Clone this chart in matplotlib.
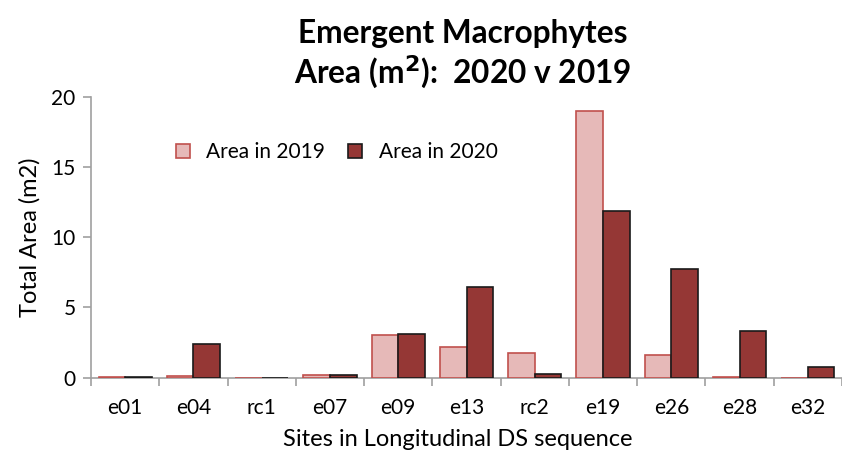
import matplotlib
matplotlib.use("Agg")
import matplotlib.pyplot as plt
import numpy as np

sites = ["e01", "e04", "rc1", "e07", "e09", "e13", "rc2", "e19", "e26", "e28", "e32"]
area_2019 = [0.02, 0.1, 0.0, 0.15, 3.0, 2.2, 1.73, 19.0, 1.6, 0.05, 0.0]
area_2020 = [0.03, 2.4, 0.0, 0.17, 3.1, 6.45, 0.23, 11.85, 7.75, 3.35, 0.73]

plt.rcParams['font.family'] = ['Lato', 'DejaVu Sans']

W, H = 842, 457
fig = plt.figure(figsize=(W / 100, H / 100), dpi=100)
x0, x1 = 91, 842
y0, y1 = 97, 377.5
ax = fig.add_axes([x0 / W, 1 - y1 / H, (x1 - x0) / W, (y1 - y0) / H])

x = np.arange(len(sites))
bw = 0.39
ax.bar(x - bw / 2, area_2019, bw, color="#E6B9B8", edgecolor="#C0504D", linewidth=1.2,
       label="Area in 2019", zorder=3)
ax.bar(x + bw / 2, area_2020, bw, color="#953735", edgecolor="#1a1a1a", linewidth=1.2,
       label="Area in 2020", zorder=3)

cat_w = 68.9
ax.set_xlim(-0.5, -0.5 + (x1 - x0) / cat_w)
ax.set_ylim(0, 20)
ax.set_yticks([0, 5, 10, 15, 20])
ax.set_xticks(x)
ax.set_xticklabels(sites)
ax.set_xticks(np.arange(len(sites) + 1) - 0.5, minor=True)
ax.tick_params(axis='x', which='major', length=0, labelsize=15, pad=15)
ax.tick_params(axis='x', which='minor', length=6, color="#A0A0A0", width=1.2)
ax.tick_params(axis='y', length=6, color="#A0A0A0", width=1.2, labelsize=15, pad=5)

for s in ['top', 'right']:
    ax.spines[s].set_visible(False)
for s in ['left', 'bottom']:
    ax.spines[s].set_color("#A0A0A0")
    ax.spines[s].set_linewidth(1.2)

ax.set_ylabel("Total Area (m2)", fontsize=17, labelpad=8)
ax.set_xlabel("Sites in Longitudinal DS sequence", fontsize=17, labelpad=6)
ax.xaxis.set_label_coords((458 - x0) / (x1 - x0), -0.185)

leg = ax.legend(loc='center left', bbox_to_anchor=(0.113, 0.804), ncol=2, frameon=False,
                fontsize=15, handlelength=0.67, handleheight=0.67, columnspacing=1.1,
                handletextpad=0.8, borderpad=0, borderaxespad=0)

fig.text(463 / W, 1 - 33 / H, "Emergent Macrophytes", ha='center', va='center',
         fontsize=22.8, fontweight='bold')
fig.text(463 / W, 1 - 72 / H, "Area (m$\\mathbf{^2}$):  2020 v 2019", ha='center', va='center',
         fontsize=22.8, fontweight='bold')

fig.savefig("out.png", dpi=100)
